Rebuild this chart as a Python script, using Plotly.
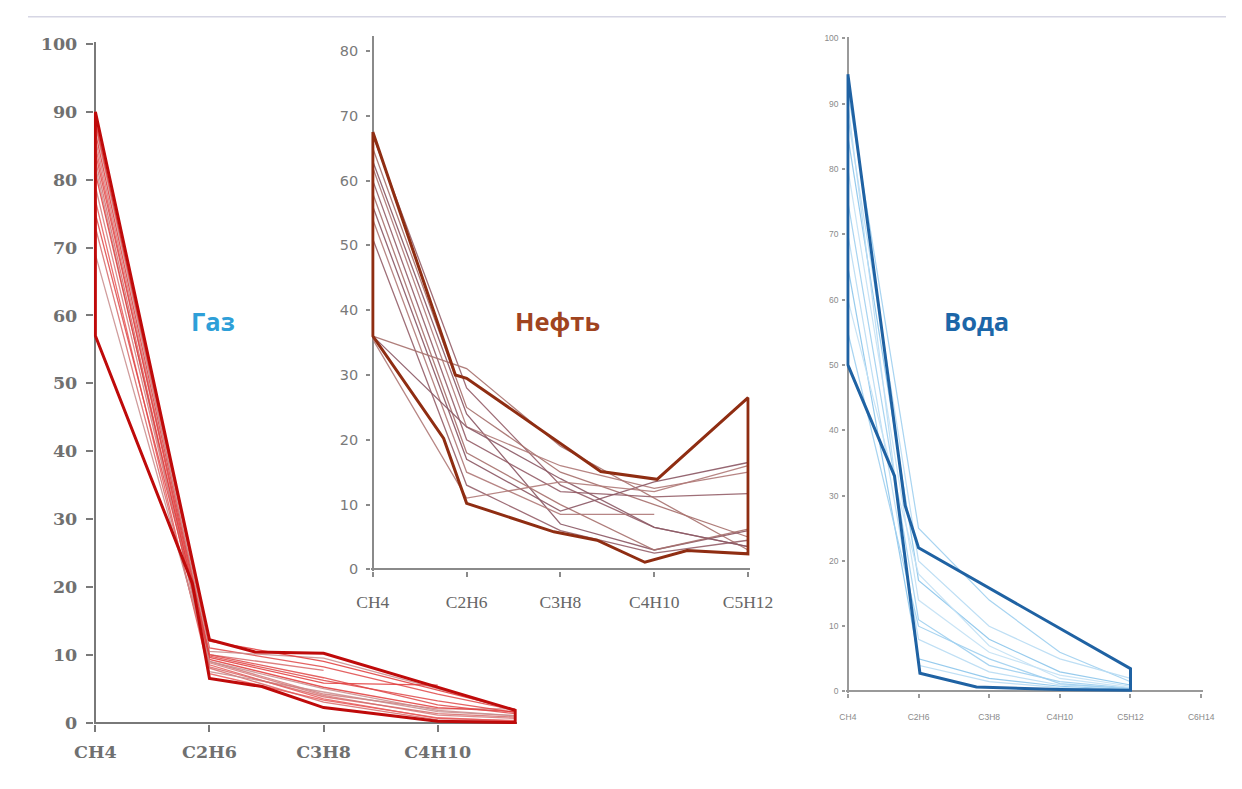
import plotly.graph_objects as go

# ------------------------------------------------------------------ data
# Gas (Газ)
gas_categories = ["CH4", "C2H6", "C3H8", "C4H10", "C5H12"]
gas_positions = [0, 1, 2, 3, 3.68]
gas_tick_labels = ["CH4", "C2H6", "C3H8", "C4H10"]
gas_series = [
    [90, 11.0, 8.2, 4.2, 1.8],
    [89, 10.0, 7.7, None, None],
    [88, 10.5, 9.5, 5.0, 1.7],
    [87, 9.6, 5.8, 5.5, None],
    [86, 9.0, 4.2, 2.0, 2.0],
    [85, 8.5, 3.5, 0.6, 0.3],
    [84, 9.8, 6.2, 3.2, 1.5],
    [83, 8.0, 3.0, 0.4, 0.2],
    [82, 7.5, 4.5, 1.6, 1.0],
    [81, 9.3, 5.2, 2.2, 1.6],
    [79, 8.8, 4.0, 1.1, 0.6],
    [77, 7.2, 3.3, 0.7, 0.2],
    [75, 10.0, 6.6, 2.6, 1.3],
    [73, 8.2, 3.8, 1.3, 0.8],
    [69, 9.0, 5.0, 1.8, 1.0],
    [88.5, 12.0, 9.0, 4.8, 1.9],
]
gas_envelope_x = [0, 1, 1.4, 2, 3.68, 3.68, 3, 2, 1.46, 1, 0.85, 0, 0]
gas_envelope_y = [90, 12.2, 10.4, 10.2, 1.8, 0, 0.2, 2.2, 5.3, 6.5, 20.5, 57, 90]
gas_y_ticks = [0, 10, 20, 30, 40, 50, 60, 70, 80, 90, 100]

# Oil (Нефть)
oil_categories = ["CH4", "C2H6", "C3H8", "C4H10", "C5H12"]
oil_positions = [0, 1, 2, 3, 4]
oil_series = [
    [67, 28, 13, 6.5, 3.5],
    [65, 25, 15, 10, 5],
    [63, 24, 7, 3, 6],
    [62, 22, 16, 12.5, 15],
    [60, 20, 12, 11.2, 11.7],
    [58, 18, 10, 3, 6.2],
    [56, 17, 9, 13.5, 16.5],
    [54, 15, 8.5, 8.5, None],
    [51, 13, 6, 2.5, 4.5],
    [36, 31, 19, 11, 3],
    [36, 22, 14, 6.5, 3.5],
    [35.5, 11, 13.5, 12, 16],
]
oil_envelope_x = [0, 0.88, 1, 2.43, 3.03, 4, 4, 3.35, 2.9, 2.39, 1.93, 1, 0.755, 0, 0]
oil_envelope_y = [67.5, 30, 29.5, 15.1, 13.9, 26.5, 2.4, 2.9, 1.1, 4.5, 5.8, 10.2, 20.2, 36, 67.5]
oil_y_ticks = [0, 10, 20, 30, 40, 50, 60, 70, 80]

# Water (Вода)
water_categories = ["CH4", "C2H6", "C3H8", "C4H10", "C5H12", "C6H14"]
water_positions = [0, 1, 2, 3, 4, 5]
water_series = [
    [92, 25, 14, 6, 1.5],
    [88, 20, 10, 5, 2],
    [85, 17, 8, 3, 1],
    [80, 14, 6, 2.5, 0.8],
    [75, 11, 4, 1.5, 0.5],
    [70, 8, 3, 1, 0.5],
    [65, 5, 2, 0.8, 0.3],
    [60, 18, 7, 2, 0.6],
    [55, 10, 5, 1.2, 0.4],
    [90, 4, 1.5, 0.6, 0.2],
]
water_envelope_x = [0, 0.81, 1.0, 4, 4, 3, 1.82, 1.02, 0.66, 0, 0]
water_envelope_y = [94.5, 28.5, 22, 3.5, 0.2, 0.3, 0.7, 2.8, 33, 50, 94.5]
water_y_ticks = [0, 10, 20, 30, 40, 50, 60, 70, 80, 90, 100]

# ------------------------------------------------------------------ layout helpers
W, H = 1242, 789
# observed mapping of figure pixels to the photographed picture
AX, SX, AY, SY = 26.5, 0.9665, 16.0, 0.979
PAD_PX = 1.6


def fig_px_x(t):
    return (t - AX) / SX


def fig_px_y(t):
    return (t - AY) / SY


def fx(t):
    return fig_px_x(t) / W


def fy(t):
    return 1 - fig_px_y(t) / H


def geom(v0, p0, v1, p1, lo, hi, vertical):
    s = (p1 - p0) / (v1 - v0)
    pad = PAD_PX / abs(s)
    r = [lo - pad, hi + pad]
    pa = p0 + (r[0] - v0) * s
    pb = p0 + (r[1] - v0) * s
    if vertical:
        d = sorted([fy(pa), fy(pb)])
    else:
        d = sorted([fx(pa), fx(pb)])
    return r, d


fig = go.Figure()

gas_thin_colors = ["#e04848", "#d86a6a", "#c98c8c", "#e23a3a", "#d47b7b", "#e85a5a"]
for i, s in enumerate(gas_series):
    fig.add_trace(go.Scatter(x=gas_positions, y=s, mode="lines", xaxis="x", yaxis="y",
                             line=dict(color=gas_thin_colors[i % len(gas_thin_colors)], width=1.3),
                             opacity=0.85, showlegend=False, hoverinfo="skip"))
fig.add_trace(go.Scatter(x=gas_envelope_x, y=gas_envelope_y, mode="lines", xaxis="x", yaxis="y",
                         line=dict(color="#bf0a0a", width=3), showlegend=False))

oil_thin_colors = ["#95606a", "#a8726f", "#8c5a66", "#b07a78"]
for i, s in enumerate(oil_series):
    fig.add_trace(go.Scatter(x=oil_positions, y=s, mode="lines", xaxis="x2", yaxis="y2",
                             line=dict(color=oil_thin_colors[i % len(oil_thin_colors)], width=1.3),
                             opacity=0.9, showlegend=False, hoverinfo="skip"))
fig.add_trace(go.Scatter(x=oil_envelope_x, y=oil_envelope_y, mode="lines", xaxis="x2", yaxis="y2",
                         line=dict(color="#8f2d12", width=3), showlegend=False))

water_thin_colors = ["#9fd0f0", "#b8dcf4", "#8cc6ec", "#c4e2f6"]
for i, s in enumerate(water_series):
    fig.add_trace(go.Scatter(x=water_positions[:len(s)], y=s, mode="lines", xaxis="x3", yaxis="y3",
                             line=dict(color=water_thin_colors[i % len(water_thin_colors)], width=1.2),
                             opacity=0.9, showlegend=False, hoverinfo="skip"))
fig.add_trace(go.Scatter(x=water_envelope_x, y=water_envelope_y, mode="lines", xaxis="x3", yaxis="y3",
                         line=dict(color="#1f62a3", width=3), showlegend=False))

gx_r, gx_d = geom(0, 94, 3, 437, 0, 3.68, False)
gy_r, gy_d = geom(0, 722, 100, 44, 0, 100, True)
ox_r, ox_d = geom(0, 372, 4, 748, 0, 4, False)
oy_r, oy_d = geom(0, 569, 80, 51, 0, 82, True)
wx_r, wx_d = geom(0, 848, 5, 1202, 0, 5, False)
wy_r, wy_d = geom(0, 691, 100, 38.3, 0, 100, True)


def ax(rng, dom, anchor, tickvals, ticktext, color, lw, font, ticklen, standoff):
    return dict(range=rng, domain=dom, anchor=anchor, showgrid=False, showline=False,
                zeroline=True, zerolinecolor=color, zerolinewidth=lw,
                tickmode="array", tickvals=tickvals, ticktext=ticktext,
                ticks="outside", ticklen=ticklen, tickcolor=color, tickwidth=lw,
                tickfont=font, ticklabelstandoff=standoff, fixedrange=True)


gas_font = dict(family="DejaVu Serif", size=17.5, color="#707070", weight="bold")
oil_y_font = dict(family="DejaVu Sans", size=14.5, color="#7a7a7a")
oil_x_font = dict(family="Liberation Serif", size=17.5, color="#666666")
water_font = dict(family="Liberation Sans", size=8.5, color="#8a8a8a")

title_font = dict(family="Open Sans", size=25.5)

fig.update_layout(
    width=W, height=H, autosize=False,
    margin=dict(l=0, r=0, t=0, b=0, pad=0),
    paper_bgcolor="white", plot_bgcolor="rgba(0,0,0,0)",
    showlegend=False,
    xaxis=ax(gx_r, gx_d, "y", gas_positions[:4], gas_tick_labels, "#7a7a7a", 2, gas_font, 7, 5),
    yaxis=ax(gy_r, gy_d, "x", gas_y_ticks, [str(v) for v in gas_y_ticks], "#7a7a7a", 2, gas_font, 7, 5),
    xaxis2=ax(ox_r, ox_d, "y2", oil_positions, oil_categories, "#8a8a8a", 1.5, oil_x_font, 5, 10),
    yaxis2=ax(oy_r, oy_d, "x2", oil_y_ticks, [str(v) for v in oil_y_ticks], "#8a8a8a", 1.5, oil_y_font, 4, 5),
    xaxis3=ax(wx_r, wx_d, "y3", water_positions, water_categories, "#9a9a9a", 1.5, water_font, 4, 12),
    yaxis3=ax(wy_r, wy_d, "x3", water_y_ticks, [str(v) for v in water_y_ticks], "#9a9a9a", 1.5, water_font, 3, 2),
    annotations=[
        dict(text="<b>Газ</b>", x=fx(212), y=fy(321), xref="paper", yref="paper", showarrow=False,
             xanchor="center", yanchor="middle", font=dict(title_font, color="#2e9fd8")),
        dict(text="<b>Нефть</b>", x=fx(557), y=fy(321), xref="paper", yref="paper", showarrow=False,
             xanchor="center", yanchor="middle", font=dict(title_font, color="#a0441f")),
        dict(text="<b>Вода</b>", x=fx(977), y=fy(321), xref="paper", yref="paper", showarrow=False,
             xanchor="center", yanchor="middle", font=dict(title_font, color="#1c66a8")),
    ],
    shapes=[
        dict(type="line", xref="paper", yref="paper", x0=0, x1=1, y0=0.999, y1=0.999,
             line=dict(color="#d6d6e4", width=1.5)),
    ],
)

fig.write_html("out.html")
